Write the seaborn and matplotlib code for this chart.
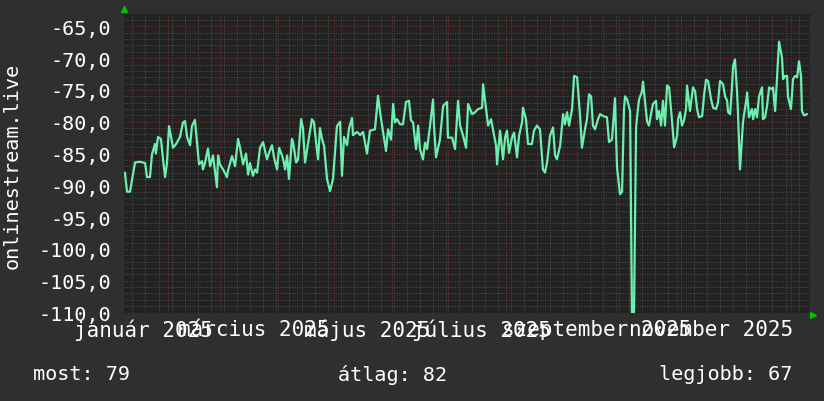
import numpy as np
import pandas as pd
import matplotlib
matplotlib.use("Agg")
import matplotlib.pyplot as plt
import matplotlib.dates as mdates
from matplotlib.ticker import MultipleLocator, FixedLocator
import seaborn as sns

# time window of the graph
start = pd.Timestamp("2025-01-08 12:00")
period_days = 367.6

# days since start
day_offset = [
    0.5, 1.6, 3.2, 5.9, 8.6, 11.3, 12.3, 13.9, 15.0, 16.6, 17.1, 18.2, 19.8, 20.9, 22.0, 23.0,
    24.1, 25.7, 26.3, 27.9, 30.0, 31.6, 32.7, 33.8, 35.4, 36.4, 38.0, 39.1, 40.2, 41.8, 42.3, 43.4,
    45.0, 46.1, 47.7, 49.8, 50.4, 51.4, 53.1, 55.2, 55.7, 57.9, 59.5, 61.1, 62.2, 63.8, 65.4, 66.5,
    67.5, 69.1, 70.2, 71.3, 72.9, 74.5, 76.6, 78.2, 79.3, 80.4, 82.0, 83.1, 84.7, 85.7, 86.3, 87.4,
    88.4, 90.0, 90.6, 92.2, 93.2, 94.9, 95.9, 97.0, 98.6, 100.7, 101.8, 102.9, 104.0, 105.0, 106.1, 107.2,
    108.8, 110.4, 112.0, 114.1, 115.8, 116.8, 117.9, 119.5, 120.6, 122.2, 122.7, 124.9, 126.5, 128.1, 130.2, 131.8,
    134.5, 136.1, 137.2, 138.8, 140.4, 141.5, 143.1, 144.2, 145.2, 146.3, 147.9, 149.5, 151.1, 152.7, 153.8, 154.9,
    156.5, 157.6, 158.6, 160.2, 161.3, 162.4, 164.0, 165.6, 166.1, 167.2, 169.3, 171.0, 173.1, 173.6, 175.8, 177.4,
    179.0, 180.1, 181.7, 183.3, 184.4, 186.5, 188.1, 189.7, 191.9, 192.4, 194.0, 195.1, 196.7, 197.7, 199.4, 199.9,
    201.5, 203.1, 204.2, 205.2, 206.3, 207.9, 209.0, 210.6, 211.7, 213.3, 213.8, 215.4, 216.5, 218.6, 219.7, 221.3,
    222.9, 224.5, 225.6, 226.7, 228.3, 229.9, 231.0, 232.0, 233.7, 235.3, 236.3, 237.4, 238.5, 240.1, 241.2, 242.8,
    244.4, 245.4, 247.0, 248.1, 249.2, 250.3, 251.3, 252.4, 254.0, 255.1, 256.7, 258.8, 259.9, 261.5, 263.1, 264.2,
    265.8, 266.9, 267.9, 268.5, 269.6, 271.2, 272.2, 273.3, 274.4, 274.9, 276.0, 277.6, 278.1, 279.2, 280.3, 281.3,
    282.9, 283.5, 285.1, 285.6, 286.7, 287.8, 288.8, 289.9, 291.0, 292.1, 293.7, 294.8, 296.4, 296.9, 298.0, 299.0,
    300.1, 301.2, 301.7, 303.3, 304.9, 306.0, 307.1, 308.1, 309.8, 310.8, 311.9, 313.0, 314.6, 315.7, 317.3, 318.3,
    319.4, 321.0, 322.1, 323.2, 323.7, 324.8, 325.8, 326.4, 327.4, 328.5, 329.0, 330.1, 331.7, 333.3, 333.9, 334.9,
    336.5, 337.1, 338.2, 339.2, 340.3, 341.9, 342.4, 343.5, 344.6, 345.7, 347.3, 347.8, 348.9, 349.9, 351.0, 352.6,
    353.2, 354.2, 355.3, 355.8, 357.4, 358.5, 359.6, 360.7, 361.7, 362.8, 363.3, 364.4, 366.0,
]

values = [
    -88.0, -91.0, -91.0, -86.4, -86.3, -86.5, -88.7, -88.7, -85.1, -83.5, -85.0, -82.4, -82.7, -85.9, -88.7, -86.6,
    -80.7, -83.2, -84.1, -83.5, -82.4, -80.1, -79.9, -82.4, -83.7, -80.7, -79.7, -83.2, -86.7, -86.2, -87.5, -86.5,
    -84.2, -87.0, -85.3, -90.3, -85.3, -86.7, -87.5, -88.7, -87.7, -85.4, -87.0, -82.7, -84.1, -86.7, -85.0, -88.3,
    -86.5, -88.5, -87.5, -88.0, -84.1, -83.2, -85.9, -84.5, -83.7, -85.6, -87.5, -84.1, -85.3, -86.5, -87.5, -85.3,
    -89.0, -82.7, -83.2, -86.4, -86.0, -79.6, -81.0, -86.4, -83.5, -79.6, -80.1, -83.2, -85.9, -81.0, -82.7, -83.8,
    -89.0, -90.9, -89.0, -80.7, -80.0, -88.5, -82.4, -83.7, -81.0, -79.4, -82.1, -81.6, -82.1, -81.6, -85.0, -81.4,
    -81.2, -75.9, -78.5, -81.6, -84.6, -81.2, -82.8, -77.2, -80.1, -79.6, -80.4, -80.4, -76.9, -76.7, -79.8, -80.1,
    -84.3, -80.6, -84.3, -85.9, -83.3, -84.3, -80.6, -76.5, -80.6, -85.6, -82.8, -77.5, -76.9, -82.5, -82.5, -84.3,
    -76.7, -80.6, -82.2, -84.1, -77.2, -78.8, -78.5, -78.0, -77.8, -74.1, -78.0, -80.6, -79.6, -81.2, -83.8, -86.7,
    -81.4, -85.9, -82.5, -81.4, -84.9, -82.5, -81.7, -85.6, -82.2, -80.1, -77.8, -79.6, -83.5, -83.5, -81.4, -80.6,
    -81.2, -87.5, -88.0, -86.4, -82.2, -80.9, -85.3, -85.9, -83.8, -78.8, -80.4, -78.5, -80.6, -78.0, -72.8, -73.0,
    -79.1, -84.1, -81.2, -79.6, -75.7, -76.0, -80.6, -81.2, -79.6, -78.8, -79.1, -79.3, -83.2, -82.8, -76.3, -87.2,
    -91.4, -91.0, -78.0, -76.0, -76.5, -78.3, -110.0, -110.0, -81.0, -79.3, -76.5, -75.2, -73.7, -76.9, -80.0, -80.6,
    -78.0, -77.2, -76.7, -79.6, -78.3, -80.6, -76.7, -80.6, -74.3, -74.6, -80.0, -84.0, -82.2, -79.6, -78.5, -80.6,
    -79.8, -78.0, -74.3, -78.3, -74.6, -75.2, -78.0, -79.3, -79.1, -75.9, -73.4, -73.6, -76.5, -77.8, -78.0, -77.0,
    -73.6, -74.1, -76.0, -76.7, -78.5, -78.8, -74.6, -71.2, -70.2, -75.2, -78.5, -87.5, -80.0, -76.9, -75.4, -79.3,
    -78.0, -79.6, -78.0, -79.3, -76.0, -74.6, -79.6, -79.3, -77.5, -74.6, -74.9, -74.6, -78.3, -73.3, -67.4, -69.9,
    -73.3, -72.8, -72.8, -76.0, -78.0, -73.3, -72.8, -73.0, -70.5, -72.8, -78.3, -79.0, -78.8,
]

month_labels = ["január 2025", "március 2025", "május 2025",
                "július 2025", "szeptember 2025", "november 2025"]
label_months = pd.date_range("2025-01-01", periods=6, freq="2MS")
y_ticks = list(range(-110, -64, 5))
y_title = "onlinestream.live"
current, average, best = 79, 82, 67

sns.set_theme(style="dark")
plt.rcParams["font.family"] = ["DejaVu Sans Mono", "DejaVu Sans"]

fig = plt.figure(figsize=(8.24, 4.02), dpi=100, facecolor="#2f2f2f")
ax = fig.add_axes([0.1505, 0.2201, 0.8325, 0.7425])
ax.set_facecolor("#222222")

df = pd.DataFrame({
    "time": start + pd.to_timedelta(day_offset, unit="D"),
    "value": values,
})
sns.lineplot(data=df, x="time", y="value", ax=ax, color="#6cf0b0",
             linewidth=1.6, estimator=None, zorder=3)

ax.set_xlim(start, start + pd.Timedelta(days=period_days))
ax.set_ylim(-110, -63.06)

# grid: weekly / monthly dotted, 1 and 5 unit horizontal
ax.xaxis.set_major_locator(mdates.MonthLocator())
ax.xaxis.set_minor_locator(mdates.WeekdayLocator(byweekday=mdates.MO))
ax.yaxis.set_major_locator(FixedLocator(y_ticks))
ax.yaxis.set_minor_locator(MultipleLocator(1))
ax.grid(which="minor", color="#4f4f4f", linestyle=(0, (1, 1.5)), linewidth=0.7)
ax.grid(which="major", color="#7a2e2e", linestyle=(0, (1, 1.5)), linewidth=0.7)
ax.set_axisbelow(True)

ax.set_yticklabels([f"{v:.1f}".replace(".", ",") for v in y_ticks])
ax.set_xticklabels([])
ax.tick_params(axis="both", which="both", length=0)
ax.tick_params(axis="y", labelcolor="white", labelsize=14.5, pad=9)
ax.set_xlabel("")
ax.set_ylabel("")
for s in ax.spines.values():
    s.set_visible(False)

for m, lab in zip(label_months, month_labels):
    ax.text(mdates.date2num(m + pd.Timedelta(days=18)), -0.055, lab,
            transform=ax.get_xaxis_transform(), ha="center", va="center",
            color="white", fontsize=15)

# little green arrows at the axis ends
ax.plot([0], [1 + 5 / 298.5], marker="^", color="#00c000", markersize=5,
        transform=ax.transAxes, clip_on=False)
ax.plot([1 + 3 / 686], [-2.5 / 298.5], marker=">", color="#00c000", markersize=5,
        transform=ax.transAxes, clip_on=False)

fig.text(12 / 824, 1 - 166 / 402, y_title, rotation=90, ha="center", va="center",
         color="white", fontsize=14.5)

fig.text(33 / 824, 1 - 375 / 402, f"most: {current}", ha="left", va="center",
         color="white", fontsize=14.5)
fig.text(338 / 824, 1 - 375 / 402, f"átlag: {average}", ha="left", va="center",
         color="white", fontsize=14.5)
fig.text(792 / 824, 1 - 375 / 402, f"legjobb: {best}", ha="right", va="center",
         color="white", fontsize=14.5)

fig.savefig("out.png", dpi=100, facecolor=fig.get_facecolor())
